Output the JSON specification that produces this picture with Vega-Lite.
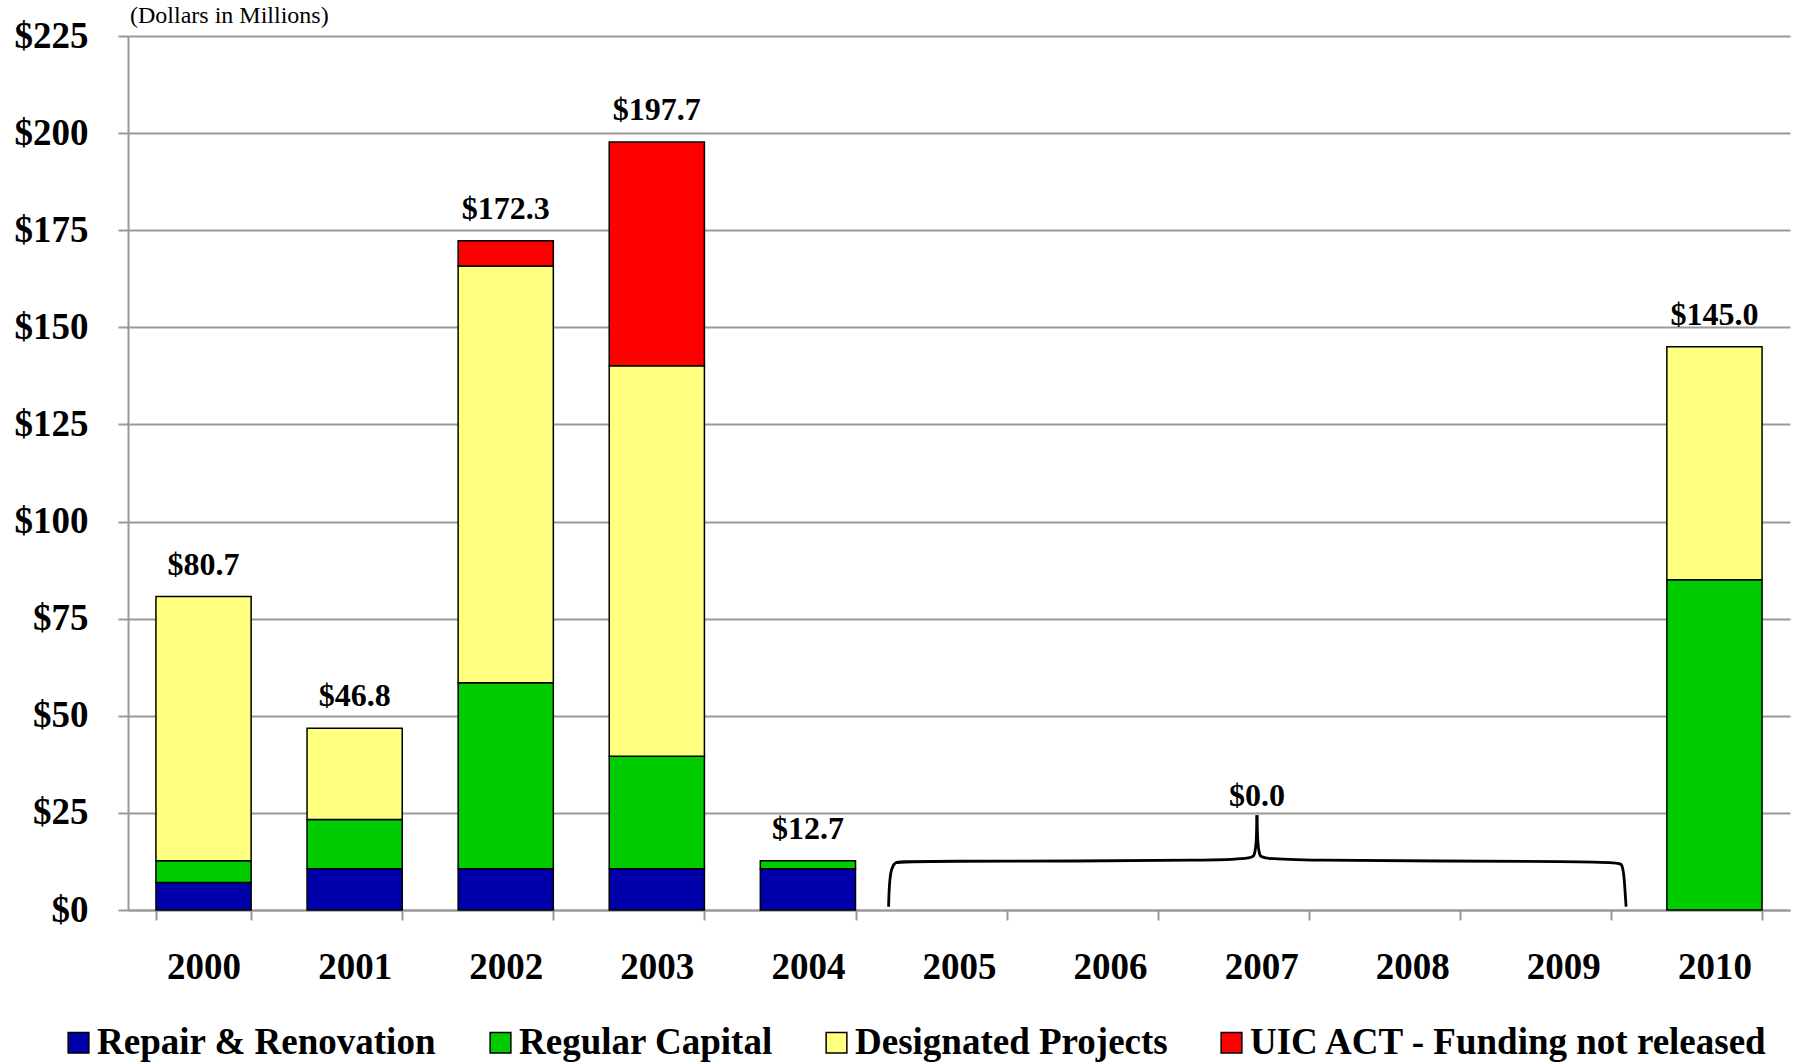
{
  "$schema": "https://vega.github.io/schema/vega-lite/v6.json",
  "autosize": {"type": "none"},
  "padding": {"left": 128, "top": 36, "right": 13, "bottom": 152},
  "width": 1662,
  "height": 874,
  "background": "white",
  "config": {
    "font": "Liberation Serif",
    "view": {"stroke": null},
    "axis": {"labelFont": "Liberation Serif", "titleFont": "Liberation Serif"},
    "legend": {"labelFont": "Liberation Serif"},
    "title": {"font": "Liberation Serif"}
  },
  "title": {
    "text": "(Dollars in Millions)",
    "anchor": "start",
    "frame": "group",
    "font": "Liberation Serif",
    "fontSize": 24,
    "fontWeight": "normal",
    "color": "black",
    "dx": 2,
    "offset": -11
  },
  "datasets": {
    "funding": [
      {"year": 2000, "category": "Repair & Renovation", "value": 7.1},
      {"year": 2000, "category": "Regular Capital", "value": 5.6},
      {"year": 2000, "category": "Designated Projects", "value": 68.0},
      {"year": 2001, "category": "Repair & Renovation", "value": 10.6},
      {"year": 2001, "category": "Regular Capital", "value": 12.7},
      {"year": 2001, "category": "Designated Projects", "value": 23.5},
      {"year": 2002, "category": "Repair & Renovation", "value": 10.6},
      {"year": 2002, "category": "Regular Capital", "value": 47.9},
      {"year": 2002, "category": "Designated Projects", "value": 107.3},
      {"year": 2002, "category": "UIC ACT - Funding not released", "value": 6.5},
      {"year": 2003, "category": "Repair & Renovation", "value": 10.6},
      {"year": 2003, "category": "Regular Capital", "value": 29.0},
      {"year": 2003, "category": "Designated Projects", "value": 100.5},
      {"year": 2003, "category": "UIC ACT - Funding not released", "value": 57.6},
      {"year": 2004, "category": "Repair & Renovation", "value": 10.6},
      {"year": 2004, "category": "Regular Capital", "value": 2.1},
      {"year": 2010, "category": "Regular Capital", "value": 85.0},
      {"year": 2010, "category": "Designated Projects", "value": 60.0}
    ],
    "brace": [
      {"side": "left", "i": 0, "bx": 2004.534, "by": 0.85},
      {"side": "left", "i": 1, "bx": 2004.538, "by": 6.4},
      {"side": "left", "i": 2, "bx": 2004.551, "by": 10.8},
      {"side": "left", "i": 3, "bx": 2004.578, "by": 12.3},
      {"side": "left", "i": 4, "bx": 2004.611, "by": 12.6},
      {"side": "left", "i": 5, "bx": 2006.928, "by": 12.6},
      {"side": "left", "i": 6, "bx": 2006.955, "by": 13.9},
      {"side": "left", "i": 7, "bx": 2006.968, "by": 16.7},
      {"side": "left", "i": 8, "bx": 2006.972, "by": 24.4},
      {"side": "right", "i": 0, "bx": 2006.972, "by": 24.4},
      {"side": "right", "i": 1, "bx": 2006.977, "by": 16.7},
      {"side": "right", "i": 2, "bx": 2006.99, "by": 13.9},
      {"side": "right", "i": 3, "bx": 2007.015, "by": 12.6},
      {"side": "right", "i": 4, "bx": 2009.363, "by": 12.6},
      {"side": "right", "i": 5, "bx": 2009.389, "by": 11.8},
      {"side": "right", "i": 6, "bx": 2009.402, "by": 9.0},
      {"side": "right", "i": 7, "bx": 2009.415, "by": 0.85}
    ],
    "zero": [
      {"bx": 2006.972, "by": 24.4, "label": "$0.0"}
    ]
  },
  "encoding": {
    "y": {
      "type": "quantitative",
      "scale": {"domain": [0, 225], "nice": false, "zero": true},
      "axis": {
        "values": [0, 25, 50, 75, 100, 125, 150, 175, 200, 225],
        "format": "$,.0f",
        "title": null,
        "grid": true,
        "gridColor": "#999999",
        "gridWidth": 2,
        "domainColor": "#999999",
        "domainWidth": 2,
        "tickColor": "#999999",
        "tickWidth": 2,
        "tickSize": 10,
        "labelFontSize": 37,
        "labelFontWeight": "bold",
        "labelColor": "black",
        "labelPadding": 30
      }
    }
  },
  "layer": [
    {
      "data": {"name": "funding"},
      "encoding": {
        "x": {
          "field": "year",
          "type": "ordinal",
          "scale": {
            "domain": [2000, 2001, 2002, 2003, 2004, 2005, 2006, 2007, 2008, 2009, 2010],
            "paddingInner": 0.37,
            "paddingOuter": 0.185
          },
          "axis": {
            "title": null,
            "labelAngle": 0,
            "labelFontSize": 37,
            "labelFontWeight": "bold",
            "labelColor": "black",
            "labelPadding": 29,
            "tickBand": "extent",
            "tickColor": "#999999",
            "tickWidth": 2,
            "tickSize": 10,
            "domainColor": "#999999",
            "domainWidth": 2,
            "grid": false
          }
        }
      },
      "layer": [
        {
          "transform": [
            {"calculate": "indexof(['Repair & Renovation', 'Regular Capital', 'Designated Projects', 'UIC ACT - Funding not released'], datum.category)", "as": "stackOrder"}
          ],
          "mark": {"type": "bar", "stroke": "black", "strokeWidth": 1.5},
          "encoding": {
            "y": {"field": "value", "type": "quantitative", "stack": "zero"},
            "order": {"field": "stackOrder", "type": "quantitative", "sort": "ascending"},
            "color": {
              "field": "category",
              "type": "nominal",
              "scale": {
                "domain": ["Repair & Renovation", "Regular Capital", "Designated Projects", "UIC ACT - Funding not released"],
                "range": ["#0000AA", "#00CC00", "#FFFF80", "#FF0000"]
              },
              "legend": {
                "title": null,
                "orient": "none",
                "legendX": -68,
                "legendY": 988,
                "direction": "horizontal",
                "symbolType": "square",
                "symbolSize": 430,
                "symbolStrokeColor": "black",
                "symbolStrokeWidth": 1.5,
                "labelFontSize": 37,
                "labelFontWeight": "bold",
                "labelColor": "black",
                "labelOffset": 0,
                "columnPadding": 45,
                "labelLimit": 1000
              }
            }
          }
        },
        {
          "transform": [
            {"aggregate": [{"op": "sum", "field": "value", "as": "total"}], "groupby": ["year"]}
          ],
          "mark": {"type": "text", "baseline": "alphabetic", "align": "center", "dy": -22, "fontSize": 32, "fontWeight": "bold", "color": "black"},
          "encoding": {
            "y": {"field": "total", "type": "quantitative"},
            "text": {"field": "total", "type": "quantitative", "format": "$,.1f"}
          }
        }
      ]
    },
    {
      "encoding": {
        "x": {
          "field": "bx",
          "type": "quantitative",
          "scale": {"domain": [1999.5, 2010.5], "nice": false, "zero": false},
          "axis": null
        },
        "y": {"field": "by", "type": "quantitative"}
      },
      "layer": [
        {
          "data": {"name": "brace"},
          "mark": {"type": "line", "color": "black", "strokeWidth": 2.8, "interpolate": "basis"},
          "encoding": {
            "detail": {"field": "side", "type": "nominal"},
            "order": {"field": "i", "type": "quantitative"}
          }
        },
        {
          "data": {"name": "zero"},
          "mark": {"type": "text", "baseline": "alphabetic", "align": "center", "dy": -9, "fontSize": 32, "fontWeight": "bold", "color": "black"},
          "encoding": {
            "text": {"field": "label", "type": "nominal"}
          }
        }
      ]
    }
  ],
  "resolve": {"scale": {"x": "independent"}, "axis": {"x": "independent"}}
}
